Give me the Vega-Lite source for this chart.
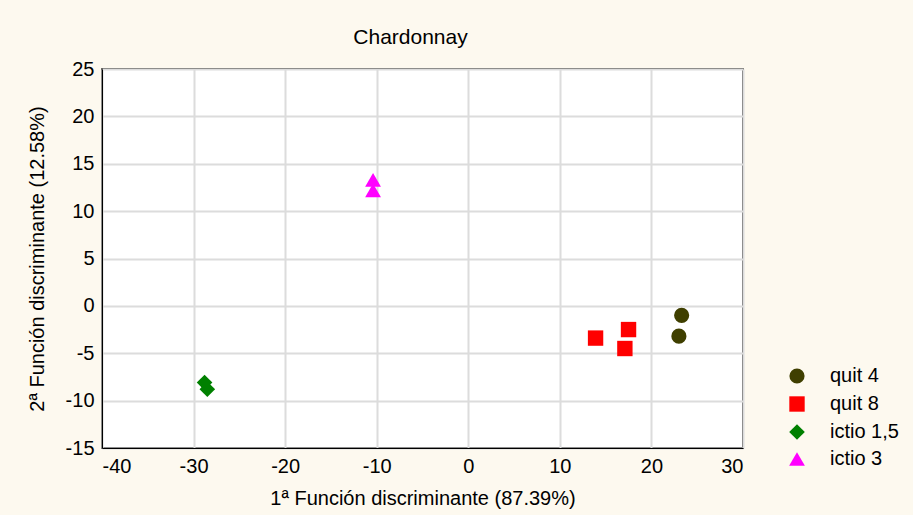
{
  "$schema": "https://vega.github.io/schema/vega-lite/v6.json",
  "autosize": "none",
  "width": 641,
  "height": 379,
  "padding": {"left": 102, "top": 69, "right": 170, "bottom": 67},
  "background": "#FDF9EF",
  "title": {"text": "Chardonnay", "font": "Liberation Sans", "fontSize": 21, "fontWeight": "normal", "color": "#000000", "offset": 11, "dx": -12},
  "config": {
    "view": {"stroke": "#000000", "strokeWidth": 1.5, "fill": "#FFFFFF"},
    "axis": {"labelFont": "Liberation Sans", "titleFont": "Liberation Sans", "labelFontSize": 20, "titleFontSize": 20, "titleFontWeight": "normal", "labelColor": "#000000", "titleColor": "#000000", "gridColor": "#DCDCDC", "gridWidth": 2, "domainColor": "#000000", "tickColor": "#000000", "ticks": false,
      "labelExpr": "datum.value < 0 ? '-' + abs(datum.value) : '' + datum.value"}
  },
  "data": {"values": [
    {"f1": 23.3, "f2": -1.0, "group": "quit 4"},
    {"f1": 23.0, "f2": -3.2, "group": "quit 4"},
    {"f1": 13.9, "f2": -3.4, "group": "quit 8"},
    {"f1": 17.5, "f2": -2.5, "group": "quit 8"},
    {"f1": 17.1, "f2": -4.5, "group": "quit 8"},
    {"f1": -28.8, "f2": -8.1, "group": "ictio 1,5"},
    {"f1": -28.5, "f2": -8.8, "group": "ictio 1,5"},
    {"f1": -10.4, "f2": 13.3, "group": "ictio 3"},
    {"f1": -10.4, "f2": 12.2, "group": "ictio 3"}
  ]},
  "mark": {"type": "point", "filled": true, "opacity": 1},
  "encoding": {
    "x": {"field": "f1", "type": "quantitative", "scale": {"domain": [-40, 30], "nice": false, "zero": false},
      "axis": {"title": "1ª Función discriminante (87.39%)", "values": [-40,-30,-20,-10,0,10,20,30], "labelPadding": 8, "titlePadding": 12}},
    "y": {"field": "f2", "type": "quantitative", "scale": {"domain": [-15, 25], "nice": false, "zero": false},
      "axis": {"title": "2ª Función discriminante (12.58%)", "values": [-15,-10,-5,0,5,10,15,20,25], "labelPadding": 8, "titlePadding": 18}},
    "color": {"field": "group", "type": "nominal",
      "scale": {"domain": ["quit 4", "quit 8", "ictio 1,5", "ictio 3"], "range": ["#3F3F00", "#FF0000", "#008000", "#FF00FF"]},
      "legend": {"title": null, "orient": "none", "legendX": 685, "legendY": 297, "labelFont": "Liberation Sans", "labelFontSize": 20, "labelColor": "#000000", "rowPadding": 6, "symbolSize": 200, "labelOffset": 23, "symbolOpacity": 1}},
    "shape": {"field": "group", "type": "nominal",
      "scale": {"domain": ["quit 4", "quit 8", "ictio 1,5", "ictio 3"], "range": ["circle", "square", "diamond", "triangle-up"]}},
    "size": {"field": "group", "type": "nominal",
      "scale": {"domain": ["quit 4", "quit 8", "ictio 1,5", "ictio 3"], "range": [230, 250, 130, 170]}, "legend": null}
  }
}
